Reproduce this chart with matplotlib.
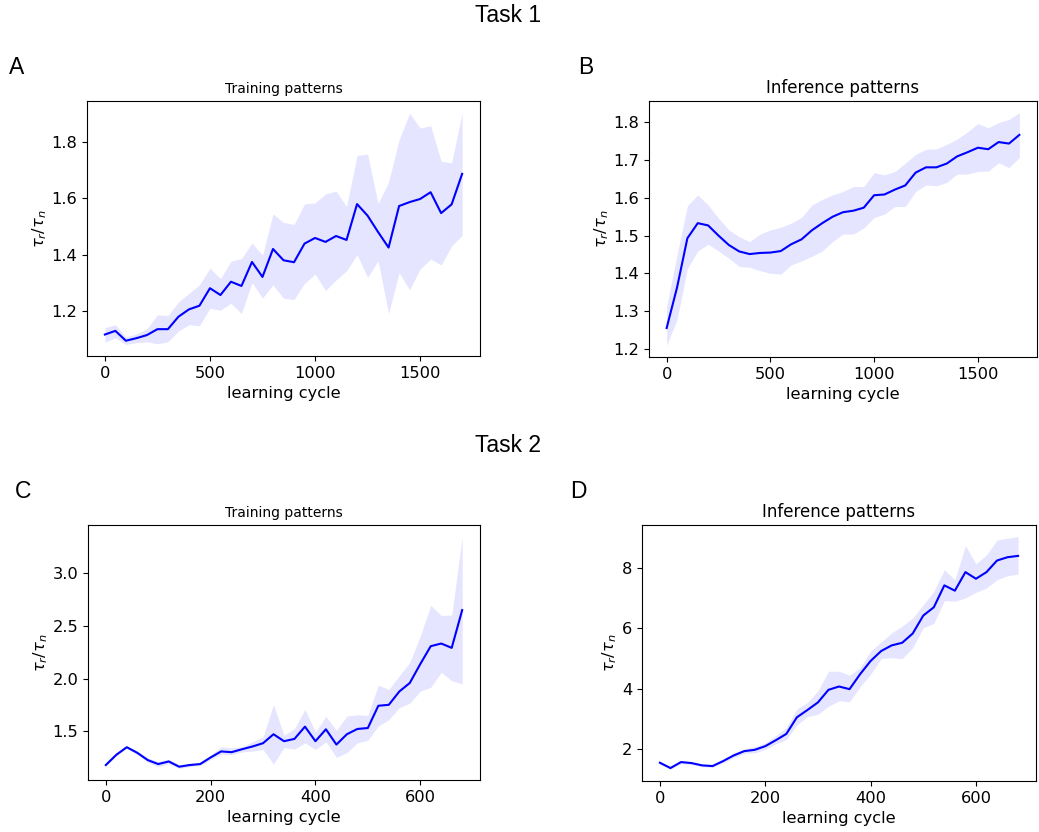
import numpy as np
import matplotlib
matplotlib.use("Agg")
import matplotlib.pyplot as plt

# ---------------- data ----------------
cycles_t1 = list(range(0, 1701, 50))
cycles_t2 = list(range(0, 681, 20))

a_mean = [1.118, 1.131, 1.096, 1.105, 1.116, 1.137, 1.137, 1.181, 1.207, 1.220,
          1.282, 1.258, 1.305, 1.290, 1.375, 1.322, 1.421, 1.381, 1.374, 1.440,
          1.460, 1.446, 1.467, 1.453, 1.580, 1.539, 1.481, 1.426, 1.573, 1.587,
          1.598, 1.622, 1.548, 1.579, 1.687]
a_upper = [1.142, 1.153, 1.109, 1.120, 1.138, 1.188, 1.185, 1.233, 1.264, 1.294,
           1.353, 1.316, 1.378, 1.387, 1.442, 1.399, 1.545, 1.515, 1.508, 1.581,
           1.584, 1.616, 1.626, 1.572, 1.752, 1.757, 1.582, 1.658, 1.808, 1.902,
           1.849, 1.858, 1.732, 1.726, 1.904]
a_lower = [1.091, 1.106, 1.083, 1.089, 1.092, 1.085, 1.092, 1.130, 1.153, 1.149,
           1.211, 1.204, 1.229, 1.192, 1.302, 1.247, 1.294, 1.246, 1.242, 1.299,
           1.332, 1.274, 1.311, 1.344, 1.401, 1.320, 1.379, 1.192, 1.337, 1.276,
           1.350, 1.385, 1.364, 1.432, 1.469]

b_mean = [1.255, 1.362, 1.493, 1.533, 1.527, 1.500, 1.475, 1.458, 1.451, 1.454,
          1.455, 1.459, 1.477, 1.490, 1.514, 1.533, 1.550, 1.562, 1.566, 1.574,
          1.607, 1.609, 1.622, 1.633, 1.667, 1.681, 1.681, 1.691, 1.710, 1.721,
          1.733, 1.729, 1.748, 1.744, 1.767]
b_upper = [1.312, 1.449, 1.579, 1.608, 1.581, 1.546, 1.515, 1.497, 1.484, 1.504,
           1.515, 1.522, 1.533, 1.548, 1.581, 1.596, 1.608, 1.617, 1.630, 1.630,
           1.667, 1.661, 1.670, 1.692, 1.715, 1.729, 1.730, 1.742, 1.756, 1.775,
           1.797, 1.786, 1.800, 1.808, 1.826]
b_lower = [1.209, 1.277, 1.412, 1.459, 1.477, 1.459, 1.440, 1.418, 1.416, 1.407,
           1.400, 1.398, 1.422, 1.433, 1.445, 1.459, 1.484, 1.504, 1.504, 1.520,
           1.548, 1.557, 1.577, 1.577, 1.617, 1.634, 1.632, 1.641, 1.663, 1.663,
           1.670, 1.671, 1.693, 1.680, 1.707]

c_mean = [1.180, 1.277, 1.349, 1.296, 1.227, 1.189, 1.214, 1.164, 1.180, 1.189,
          1.252, 1.309, 1.302, 1.330, 1.356, 1.387, 1.472, 1.406, 1.428, 1.544,
          1.406, 1.519, 1.374, 1.472, 1.522, 1.531, 1.742, 1.751, 1.877, 1.958,
          2.137, 2.307, 2.332, 2.291, 2.649]
c_upper = [1.189, 1.290, 1.359, 1.312, 1.249, 1.214, 1.236, 1.183, 1.196, 1.202,
           1.274, 1.352, 1.343, 1.352, 1.400, 1.447, 1.754, 1.462, 1.525, 1.707,
           1.494, 1.641, 1.509, 1.644, 1.657, 1.651, 1.939, 1.896, 2.027, 2.153,
           2.404, 2.693, 2.599, 2.602, 3.346]
c_lower = [1.170, 1.265, 1.337, 1.280, 1.205, 1.164, 1.192, 1.148, 1.164, 1.177,
           1.233, 1.283, 1.277, 1.305, 1.312, 1.327, 1.189, 1.346, 1.330, 1.390,
           1.327, 1.400, 1.252, 1.299, 1.390, 1.415, 1.550, 1.610, 1.723, 1.767,
           1.880, 1.917, 2.059, 1.980, 1.949]

d_mean = [1.538, 1.362, 1.560, 1.527, 1.450, 1.428, 1.593, 1.780, 1.923, 1.967,
          2.088, 2.286, 2.495, 3.046, 3.288, 3.541, 3.959, 4.069, 3.981, 4.477,
          4.917, 5.247, 5.434, 5.522, 5.830, 6.425, 6.700, 7.427, 7.251, 7.867,
          7.647, 7.867, 8.252, 8.362, 8.406]
d_upper = [1.582, 1.395, 1.593, 1.560, 1.483, 1.472, 1.648, 1.857, 2.000, 2.077,
           2.198, 2.440, 2.715, 3.321, 3.541, 3.926, 4.576, 4.576, 4.444, 4.697,
           5.247, 5.544, 5.852, 6.073, 6.348, 6.788, 7.229, 7.944, 7.614, 8.747,
           8.142, 8.439, 8.934, 8.990, 9.045]
d_lower = [1.483, 1.318, 1.505, 1.483, 1.406, 1.384, 1.538, 1.703, 1.846, 1.868,
           1.978, 2.165, 2.308, 2.793, 3.068, 3.145, 3.409, 3.596, 3.563, 4.058,
           4.477, 4.994, 5.027, 4.994, 5.357, 6.018, 6.161, 6.920, 6.898, 7.008,
           7.195, 7.338, 7.614, 7.746, 7.801]

panel_titles = ["Training patterns", "Inference patterns", "Training patterns", "Inference patterns"]
panel_letters = ["A", "B", "C", "D"]
y_ticks = [[1.2, 1.4, 1.6, 1.8],
           [1.2, 1.3, 1.4, 1.5, 1.6, 1.7, 1.8],
           [1.5, 2.0, 2.5, 3.0],
           [2, 4, 6, 8]]
x_ticks = [[0, 500, 1000, 1500], [0, 500, 1000, 1500],
           [0, 200, 400, 600], [0, 200, 400, 600]]

# ---------------- figure ----------------
W, H = 1039, 832
fig = plt.figure(figsize=(W / 100, H / 100), dpi=100)

def add_ax(l, t, r, b):
    return fig.add_axes([l / W, 1 - b / H, (r - l) / W, (b - t) / H])

axes = [add_ax(87, 101, 480, 356),
        add_ax(649, 101, 1037, 357),
        add_ax(88, 525, 480, 780),
        add_ax(642, 525, 1036, 781)]

series = [(cycles_t1, a_mean, a_lower, a_upper),
          (cycles_t1, b_mean, b_lower, b_upper),
          (cycles_t2, c_mean, c_lower, c_upper),
          (cycles_t2, d_mean, d_lower, d_upper)]
title_sizes = [10, 12, 10, 12]

for i, ax in enumerate(axes):
    x, m, lo, hi = series[i]
    ax.fill_between(x, lo, hi, color="blue", alpha=0.1, linewidth=0)
    ax.plot(x, m, color="blue", linewidth=1.5)
    ax.set_title(panel_titles[i], fontsize=title_sizes[i], pad=6)
    ax.set_xlabel("learning cycle", fontsize=11.7, labelpad=3.5)
    ax.set_ylabel(r"$\tau_r/\tau_n$", fontsize=11.7, labelpad=2)
    ax.set_yticks(y_ticks[i])
    ax.set_xticks(x_ticks[i])
    ax.tick_params(labelsize=11.7)
    ax.margins(x=0.05, y=0.05)

hfont = ["Liberation Sans", "DejaVu Sans"]
fig.text(508 / W, 1 - 16 / H, "Task 1", ha="center", va="center", fontsize=16.5, family=hfont)
fig.text(508 / W, 1 - 446 / H, "Task 2", ha="center", va="center", fontsize=16.5, family=hfont)
letter_pos = [(17, 67), (586, 67), (23, 492), (578, 492)]
for (lx, ly), letter in zip(letter_pos, panel_letters):
    fig.text(lx / W, 1 - ly / H, letter, ha="center", va="center", fontsize=16.5, family=hfont)

fig.savefig("out.png", dpi=100)
